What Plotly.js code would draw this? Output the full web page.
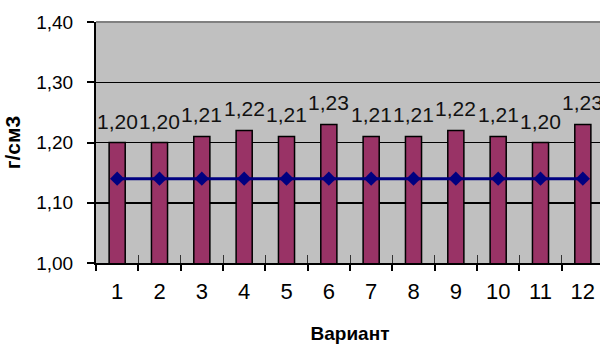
<!DOCTYPE html>
<html>
<head>
<meta charset="utf-8">
<script src="https://cdn.plot.ly/plotly-3.0.1.min.js"></script>
<style>
  html, body { margin: 0; padding: 0; overflow: hidden; background: #fff; }
  #chart { width: 608px; height: 344px; }
</style>
</head>
<body>
<div id="chart"></div>
<script>
// Density per variant, g/cm3
const variants = ['1', '2', '3', '4', '5', '6', '7', '8', '9', '10', '11', '12'];
const density = [1.20, 1.20, 1.21, 1.22, 1.21, 1.23, 1.21, 1.21, 1.22, 1.21, 1.20, 1.23];
// Reference level shown as a line across all variants
const reference = [1.14, 1.14, 1.14, 1.14, 1.14, 1.14, 1.14, 1.14, 1.14, 1.14, 1.14, 1.14];
const yTicks = [1.00, 1.10, 1.20, 1.30, 1.40];

const FONT = 'Liberation Sans, Arial, sans-serif';
const fmt = v => v.toFixed(2).replace('.', ',');

const bars = {
  type: 'bar',
  x: variants,
  y: density,
  xaxis: 'x',
  yaxis: 'y',
  marker: { color: '#993366', line: { color: '#000000', width: 1.5 } },
  hoverinfo: 'skip'
};

const refLine = {
  type: 'scatter',
  mode: 'lines+markers',
  x: variants,
  y: reference,
  xaxis: 'x2',
  yaxis: 'y',
  line: { color: '#000080', width: 3 },
  marker: { symbol: 'diamond', size: 11, color: '#000080' },
  hoverinfo: 'skip'
};

// Value labels above the bars; category position given by index
const labels = variants.map((v, i) => ({
  x: i,
  y: density[i],
  xref: 'x',
  yref: 'y',
  text: fmt(density[i]),
  showarrow: false,
  yanchor: 'bottom',
  yshift: 8,
  font: { family: FONT, size: 21, color: '#111' }
}));

const layout = {
  width: 608,
  height: 344,
  margin: { l: 96, r: 4, t: 22, b: 81 },
  paper_bgcolor: '#ffffff',
  plot_bgcolor: '#c0c0c0',
  separators: ', ',
  showlegend: false,
  bargap: 0.62,
  xaxis: {
    type: 'category',
    categoryarray: variants,
    range: [-0.5, 11.5],
    tickson: 'boundaries',
    ticks: 'outside',
    ticklen: 6,
    tickwidth: 2,
    tickcolor: '#000',
    showline: true,
    linecolor: '#000',
    linewidth: 2,
    showgrid: false,
    zeroline: false,
    ticklabelstandoff: 8,
    tickfont: { family: FONT, size: 22, color: '#000' },
    title: { text: '<b>Вариант</b>', font: { family: FONT, size: 19, color: '#000' }, standoff: 24 }
  },
  xaxis2: {
    type: 'category',
    categoryarray: variants,
    range: [-0.5, 11.5],
    overlaying: 'x',
    anchor: 'y',
    side: 'bottom',
    tickson: 'boundaries',
    ticks: 'inside',
    ticklen: 8,
    tickwidth: 1,
    tickcolor: '#333',
    showticklabels: false,
    showline: false,
    showgrid: false,
    zeroline: false
  },
  yaxis: {
    range: [1.00, 1.40],
    tickvals: yTicks,
    tickformat: '.2f',
    ticks: 'outside',
    ticklen: 7,
    tickwidth: 2,
    tickcolor: '#000',
    showline: true,
    linecolor: '#000',
    linewidth: 2,
    showgrid: true,
    gridcolor: '#000',
    gridwidth: 1.5,
    zeroline: false,
    ticklabelstandoff: 10,
    tickfont: { family: FONT, size: 19, color: '#000' },
    title: { text: '<b>г/см3</b>', font: { family: FONT, size: 21, color: '#000' }, standoff: 10 }
  },
  shapes: [
    // light plot-area border along the top edge
    { type: 'line', xref: 'paper', yref: 'paper', x0: 0, x1: 1, y0: 1, y1: 1,
      layer: 'above', line: { color: '#808080', width: 2 } }
  ],
  annotations: labels
};

Plotly.newPlot('chart', [bars, refLine], layout, { staticPlot: true, displayModeBar: false });
</script>
</body>
</html>
